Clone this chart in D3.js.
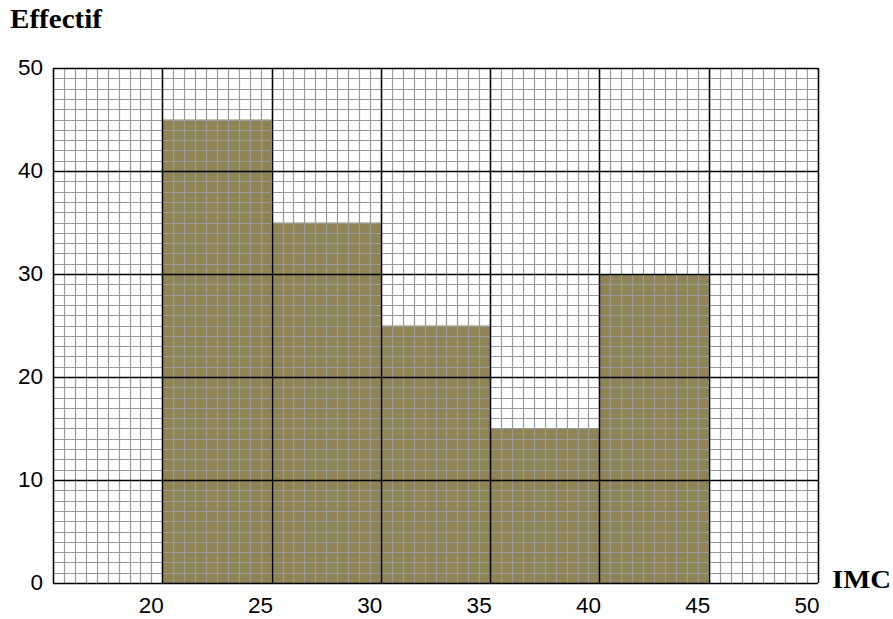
<!DOCTYPE html>
<html>
<head>
<meta charset="utf-8">
<script src="https://cdn.jsdelivr.net/npm/d3@7"></script>
<style>
  body { margin: 0; background: #fff; }
  svg { display: block; }
</style>
</head>
<body>
<svg width="893" height="619"></svg>
<script>
  // classes d'IMC (bornes) et effectifs
  var classStarts = [20, 25, 30, 35, 40];
  var classEnds = [25, 30, 35, 40, 45];
  var counts = [45, 35, 25, 15, 30];
  var xTicks = [20, 25, 30, 35, 40, 45, 50];
  var yTicks = [0, 10, 20, 30, 40, 50];

  var svg = d3.select("svg"),
      pLeft = 53, pRight = 818, pTop = 68, pBottom = 583;

  var x = d3.scaleLinear().domain([15, 50]).range([pLeft, pRight]),
      y = d3.scaleLinear().domain([0, 50]).range([pBottom, pTop]);

  // bars
  svg.selectAll(".bar")
    .data(counts)
    .enter()
    .append("rect")
    .attr("class", "bar")
    .attr("x", function (d, i) { return x(classStarts[i]); })
    .attr("y", function (d) { return y(d); })
    .attr("width", function (d, i) { return x(classEnds[i]) - x(classStarts[i]); })
    .attr("height", function (d) { return pBottom - y(d); })
    .attr("fill", "#8e8455");

  // minor grid (0.5 units)
  var minorX = d3.range(15, 50.01, 0.5),
      minorY = d3.range(0, 50.01, 1);
  var grid = svg.append("g");
  grid.selectAll(".vx")
    .data(minorX)
    .enter()
    .append("line")
    .attr("x1", function (d) { return Math.round(x(d)) + 0.5; })
    .attr("x2", function (d) { return Math.round(x(d)) + 0.5; })
    .attr("y1", pTop).attr("y2", pBottom)
    .attr("stroke", "#999").attr("stroke-width", 1.2);
  grid.selectAll(".hy")
    .data(minorY)
    .enter()
    .append("line")
    .attr("y1", function (d) { return Math.round(y(d)) + 0.5; })
    .attr("y2", function (d) { return Math.round(y(d)) + 0.5; })
    .attr("x1", pLeft).attr("x2", pRight)
    .attr("stroke", "#999").attr("stroke-width", 1.2);

  // major grid
  grid.selectAll(".mx")
    .data(d3.range(15, 50.01, 5))
    .enter()
    .append("line")
    .attr("x1", function (d) { return Math.round(x(d)) + 0.5; })
    .attr("x2", function (d) { return Math.round(x(d)) + 0.5; })
    .attr("y1", pTop).attr("y2", pBottom)
    .attr("stroke", "#000").attr("stroke-width", 1.5);
  grid.selectAll(".my")
    .data(yTicks)
    .enter()
    .append("line")
    .attr("y1", function (d) { return Math.round(y(d)) + 0.5; })
    .attr("y2", function (d) { return Math.round(y(d)) + 0.5; })
    .attr("x1", pLeft).attr("x2", pRight)
    .attr("stroke", "#000").attr("stroke-width", 1.5);

  // axes labels
  svg.append("g")
    .attr("transform", "translate(0," + (pBottom + 30) + ")")
    .call(d3.axisBottom(x).tickValues(xTicks).tickSize(0).tickPadding(0))
    .call(function (g) { g.select(".domain").remove(); })
    .selectAll("text")
    .attr("text-anchor", "end")
    .attr("dy", 0)
    .attr("dx", 1)
    .style("font-family", "'Liberation Sans', Arial, sans-serif")
    .style("font-size", "22.5px")
    .attr("fill", "#000");

  svg.append("g")
    .attr("transform", "translate(" + (pLeft - 10) + ",0)")
    .call(d3.axisLeft(y).tickValues(yTicks).tickSize(0).tickPadding(0))
    .call(function (g) { g.select(".domain").remove(); })
    .selectAll("text")
    .attr("dy", "0.28em")
    .style("font-family", "'Liberation Sans', Arial, sans-serif")
    .style("font-size", "22.5px")
    .attr("fill", "#000");

  svg.append("text")
    .attr("x", 10).attr("y", 28)
    .attr("textLength", 92)
    .attr("lengthAdjust", "spacingAndGlyphs")
    .style("font-family", "'Liberation Serif', 'Times New Roman', serif")
    .style("font-weight", "bold")
    .style("font-size", "27px")
    .text("Effectif");

  svg.append("text")
    .attr("x", 832).attr("y", 588)
    .attr("textLength", 59)
    .attr("lengthAdjust", "spacingAndGlyphs")
    .style("font-family", "'Liberation Serif', 'Times New Roman', serif")
    .style("font-weight", "bold")
    .style("font-size", "25px")
    .text("IMC");
</script>
</body>
</html>
